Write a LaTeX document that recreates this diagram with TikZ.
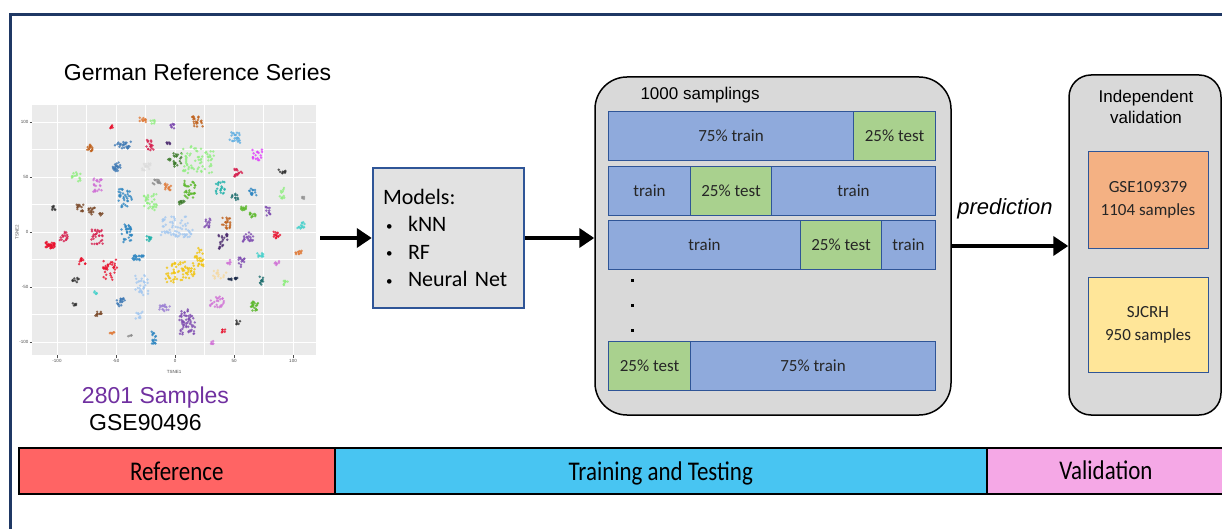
\documentclass[tikz,border=0pt]{standalone}
\usepackage{fontspec}
\setmainfont{Liberation Sans}
\newfontfamily\calfont{Carlito}
\newfontfamily\barfont[FakeStretch=0.85]{Carlito}
\usetikzlibrary{arrows.meta}

% palette
\definecolor{framenavy}{HTML}{1F3864}
\definecolor{boxblue}{HTML}{2F5597}
\definecolor{segblue}{HTML}{8FAADC}
\definecolor{seggreen}{HTML}{A9D18E}
\definecolor{panelgray}{HTML}{D9D9D9}
\definecolor{modelgray}{HTML}{E2E2E2}
\definecolor{valorange}{HTML}{F4B183}
\definecolor{valyellow}{HTML}{FFE699}
\definecolor{refred}{HTML}{FF6464}
\definecolor{traincyan}{HTML}{48C5F2}
\definecolor{valpink}{HTML}{F5A8E6}
\definecolor{sampurple}{HTML}{7030A0}
\definecolor{plotbg}{HTML}{EBEBEB}
\definecolor{ticktext}{HTML}{4D4D4D}
% cluster colours
\definecolor{cred}{HTML}{E8112D}
\definecolor{ccrimson}{HTML}{D6204F}
\definecolor{corange}{HTML}{E07B39}
\definecolor{cbrownor}{HTML}{C0601A}
\definecolor{cbrown}{HTML}{7B4A2A}
\definecolor{clgreen}{HTML}{90EE80}
\definecolor{cgreen}{HTML}{5CB82C}
\definecolor{cdkgreen}{HTML}{3B7A2A}
\definecolor{clblue}{HTML}{A4C8F0}
\definecolor{csky}{HTML}{5DADE2}
\definecolor{cblue}{HTML}{2E86C1}
\definecolor{csteel}{HTML}{3D78B4}
\definecolor{cteal}{HTML}{20B2AA}
\definecolor{cdkteal}{HTML}{1E6E6E}
\definecolor{cpurple}{HTML}{7E4BB0}
\definecolor{cdkpurple}{HTML}{4B2A6E}
\definecolor{cviolet}{HTML}{D070D6}
\definecolor{cmagenta}{HTML}{E040FB}
\definecolor{cgold}{HTML}{F1C40F}
\definecolor{clgold}{HTML}{F5D9A0}
\definecolor{cgray}{HTML}{8A8A8A}
\definecolor{clgray}{HTML}{DDDDDD}
\definecolor{cdark}{HTML}{333333}
\definecolor{cnavy}{HTML}{1B2A49}
\definecolor{ccyan}{HTML}{48D1CC}
\definecolor{clav}{HTML}{9B7FD4}

\tikzset{
  bigarrow/.style={line width=4.5pt, -{Triangle[length=15pt,width=19pt]}},
  seg/.style={draw=boxblue, line width=1pt, minimum height=49pt, inner sep=0pt,
    anchor=north west, text=black!85, font=\calfont\fontsize{17}{20}\selectfont},
  trainseg/.style={seg, fill=segblue},
  testseg/.style={seg, fill=seggreen},
  valbox/.style={draw=boxblue, line width=1pt, minimum width=120pt, minimum height=96pt,
    inner sep=0pt, align=center, text=black!85, font=\calfont\fontsize{17}{23}\selectfont},
  barcell/.style={draw=black, line width=1.6pt, minimum height=46pt, inner sep=0pt,
    text depth=0pt, anchor=north west, font=\barfont\fontsize{27}{30}\selectfont},
  tick/.style={text=ticktext, font=\fontsize{4.5}{5}\selectfont, inner sep=1pt},
}

% one cluster of the embedding: x, y, colour, count, x-spread, y-spread
\newcommand\blob[6]{%
  \pgfmathtruncatemacro\blobn{1.7*#4+1}%
  \foreach \k in {1,...,\blobn}{%
    \fill[#3, opacity=.8] ({#1+#5*1.15*rand},{#2+#6*1.15*rand}) circle (1.35);}}
\newcommand\bul{\makebox[25pt][l]{\hspace{3pt}\raisebox{1.5pt}{\fontsize{13}{13}\selectfont •}}}

\begin{document}
\begin{tikzpicture}[x=1pt, y=-1pt]
\useasboundingbox (0,0) rectangle (1222,529);
\pgfmathsetseed{4711}

% outer frame
\draw[framenavy, line width=3pt] (10,529) -- (10,15) -- (1222,15);

% ---------- reference data set ----------
\node (title) at (197.5,72) {\fontsize{23}{26}\selectfont German Reference Series};

\node[fill=plotbg, minimum width=284pt, minimum height=250pt, inner sep=0pt] (plot) at (174,230) {};
% grid
\foreach \v in {-75,-25,25,75}{
  \draw[white, line width=.4pt] ({175+1.18*\v},105) -- ({175+1.18*\v},355);
  \draw[white, line width=.4pt] (32,{232-1.1*\v}) -- (316,{232-1.1*\v});}
\foreach \v in {-100,-50,0,50,100}{
  \draw[white, line width=.9pt] ({175+1.18*\v},105) -- ({175+1.18*\v},355);
  \draw[white, line width=.9pt] (32,{232-1.1*\v}) -- (316,{232-1.1*\v});
  \draw[ticktext, line width=.4pt] ({175+1.18*\v},355) -- ({175+1.18*\v},357.5);
  \draw[ticktext, line width=.4pt] (29.5,{232-1.1*\v}) -- (32,{232-1.1*\v});
  \node[tick, anchor=north] (xt\v) at ({175+1.18*\v},358) {\v};
  \node[tick, anchor=east] (yt\v) at (29.5,{232-1.1*\v}) {\v};}
\node[tick] (xlab) at (174,372) {TSNE1};
\node[tick, rotate=90] (ylab) at (17,232) {TSNE2};

% clusters
\blob{143}{120}{corange}{6}{3}{2}
\blob{153}{122}{clgreen}{3}{2}{2}
\blob{197}{122}{cbrownor}{12}{5}{5}
\blob{111}{127}{cred}{3}{1.5}{1.5}
\blob{173}{127}{cpurple}{5}{2}{3}
\blob{235}{137}{csky}{14}{5}{5}
\blob{89}{148}{cbrownor}{8}{3}{3}
\blob{123}{145}{csteel}{14}{7}{3}
\blob{150}{145}{ccrimson}{10}{3}{5}
\blob{168}{143}{cdkpurple}{3}{2}{1.5}
\blob{175}{160}{cdkgreen}{14}{6}{6}
\blob{198}{160}{clgreen}{40}{14}{12}
\blob{258}{155}{cmagenta}{10}{5}{5}
\blob{116}{167}{csteel}{12}{4}{4}
\blob{146}{167}{clgray}{10}{4}{3}
\blob{238}{172}{ccrimson}{10}{4}{4}
\blob{282}{172}{cdark}{5}{3}{2}
\blob{76}{177}{clgreen}{8}{4}{4}
\blob{97}{185}{cviolet}{14}{4}{6}
\blob{157}{182}{cgray}{7}{4}{2}
\blob{168}{187}{corange}{8}{3}{3}
\blob{190}{190}{cgreen}{20}{5}{8}
\blob{220}{188}{cteal}{12}{4}{6}
\blob{235}{197}{cdkteal}{6}{3}{3}
\blob{253}{192}{cblue}{8}{4}{3}
\blob{282}{193}{clgreen}{6}{2}{5}
\blob{303}{198}{cgray}{2}{1}{1}
\blob{125}{198}{cblue}{20}{6}{8}
\blob{150}{202}{clgreen}{18}{6}{7}
\blob{182}{203}{cdkgreen}{6}{3}{2}
\blob{53}{208}{cdark}{4}{2}{2}
\blob{80}{208}{cbrown}{8}{3}{3}
\blob{92}{211}{cbrown}{8}{3}{3}
\blob{101}{214}{cbrown}{3}{2}{2}
\blob{243}{208}{cgreen}{6}{3}{2}
\blob{253}{215}{cgreen}{6}{3}{2}
\blob{268}{211}{cpurple}{6}{2}{4}
\blob{177}{227}{clblue}{40}{14}{9}
\blob{207}{222}{cpurple}{8}{3}{5}
\blob{226}{223}{cbrownor}{12}{4}{5}
\blob{300}{225}{ccyan}{8}{4}{3}
\blob{50}{245}{cred}{20}{4}{3}
\blob{63}{237}{ccrimson}{10}{4}{5}
\blob{97}{237}{ccrimson}{18}{5}{7}
\blob{127}{233}{cblue}{20}{5}{8}
\blob{149}{239}{cteal}{6}{2}{3}
\blob{223}{242}{cdkpurple}{12}{4}{7}
\blob{248}{237}{cpurple}{12}{5}{4}
\blob{277}{235}{cred}{8}{3}{3}
\blob{299}{253}{corange}{6}{3}{2}
\blob{260}{255}{ccyan}{6}{3}{2}
\blob{138}{258}{cblue}{12}{5}{3}
\blob{82}{261}{cred}{6}{3}{3}
\blob{277}{262}{cviolet}{4}{2}{3}
\blob{229}{262}{cviolet}{3}{2}{2}
\blob{242}{262}{cpurple}{8}{3}{5}
\blob{110}{270}{cred}{20}{6}{9}
\blob{180}{272}{cgold}{40}{13}{9}
\blob{199}{257}{cgold}{15}{4}{9}
\blob{220}{275}{clgold}{8}{6}{5}
\blob{76}{280}{cdark}{5}{3}{2}
\blob{142}{285}{clblue}{18}{6}{9}
\blob{233}{280}{cnavy}{6}{4}{2}
\blob{262}{280}{cdkteal}{6}{2}{4}
\blob{285}{283}{clgreen}{5}{3}{2}
\blob{95}{293}{ccyan}{3}{2}{1.5}
\blob{121}{302}{csteel}{10}{4}{4}
\blob{217}{302}{cviolet}{14}{6}{5}
\blob{255}{306}{cgreen}{12}{4}{4}
\blob{75}{305}{cdark}{3}{2}{1.5}
\blob{98}{314}{cbrown}{6}{3}{2}
\blob{165}{308}{clav}{10}{5}{3}
\blob{187}{322}{cpurple}{35}{7}{11}
\blob{139}{315}{clblue}{6}{3}{3}
\blob{238}{322}{cdark}{3}{2}{2}
\blob{112}{333}{corange}{3}{2}{1.5}
\blob{130}{337}{cgray}{2}{1.5}{1.5}
\blob{154}{337}{cblue}{10}{2}{6}
\blob{224}{331}{cred}{3}{2}{1.5}
\blob{212}{343}{cviolet}{3}{1.5}{2}

\node[text=sampurple] (nsamp) at (155.5,398) {\fontsize{23}{26}\selectfont 2801 Samples};
\node (gse) at (145.5,423) {\fontsize{23}{26}\selectfont GSE90496};

% ---------- models ----------
\node[draw=boxblue, fill=modelgray, line width=2.5pt, minimum width=151pt, minimum height=140pt,
  inner sep=10pt, text width=131pt, align=left,
  font=\calfont\fontsize{22}{27.5}\selectfont] (models) at (448.5,238)
  {Models:\\
   \bul kNN\\
   \bul RF\\
   \bul Neural Net};

% ---------- resampling ----------
\node[draw=black, fill=panelgray, line width=1.5pt, rounded corners=32pt,
  minimum width=356pt, minimum height=338pt, inner sep=0pt] (samp) at (773,246) {};
\node[anchor=west] (samplabel) at (637,95) {\fontsize{17}{20}\selectfont 1000 samplings};

\node[trainseg, minimum width=245pt] (r1a) at (608,111) {75\% train};
\node[testseg,  minimum width=82pt]  (r1b) at (853,111) {25\% test};
\node[trainseg, minimum width=82pt]  (r2a) at (608,166) {train};
\node[testseg,  minimum width=81pt]  (r2b) at (690,166) {25\% test};
\node[trainseg, minimum width=164pt] (r2c) at (771,166) {train};
\node[trainseg, minimum width=192pt] (r3a) at (608,220) {train};
\node[testseg,  minimum width=81pt]  (r3b) at (800,220) {25\% test};
\node[trainseg, minimum width=54pt]  (r3c) at (881,220) {train};
\node[testseg,  minimum width=82pt]  (r4a) at (608,341) {25\% test};
\node[trainseg, minimum width=245pt] (r4b) at (690,341) {75\% train};
\foreach \yy in {280,305,330}
  \fill[black] (630.5,\yy-1.5) rectangle (633.5,\yy+1.5);

% ---------- validation ----------
\node[draw=black, fill=panelgray, line width=1.5pt, rounded corners=22pt,
  minimum width=152pt, minimum height=340pt, inner sep=0pt] (val) at (1145,245) {};
\node[align=center, font=\fontsize{17}{21}\selectfont] (vallabel) at (1146,107)
  {Independent\\validation};
\node[valbox, fill=valorange] (gse2) at (1148,200) {GSE109379\\1104 samples};
\node[valbox, fill=valyellow, minimum height=95pt] (sjcrh) at (1148,324.5) {SJCRH\\950 samples};

% ---------- flow ----------
\draw[bigarrow, shorten <=4pt] (models.west -| plot.east) -- (models.west);
\draw[bigarrow] (models.east) -- (models.east -| samp.west);
\draw[bigarrow] (samp.east) -- (samp.east -| val.west);
\node[font=\itshape\fontsize{22}{25}\selectfont] (pred) at (1005,209) {prediction};

% ---------- phase bar ----------
\node[barcell, fill=refred, minimum width=316pt] (bref) at (18,447) {Reference};
\node[barcell, fill=traincyan, minimum width=652pt] (btrain) at (334,447) {Training and Testing};
\node[barcell, fill=valpink, minimum width=260pt] (bval) at (986,447) {};
\node[text depth=0pt, font=\barfont\fontsize{27}{30}\selectfont] (bvaltext) at (1106,470) {Validation};

\end{tikzpicture}
\end{document}
